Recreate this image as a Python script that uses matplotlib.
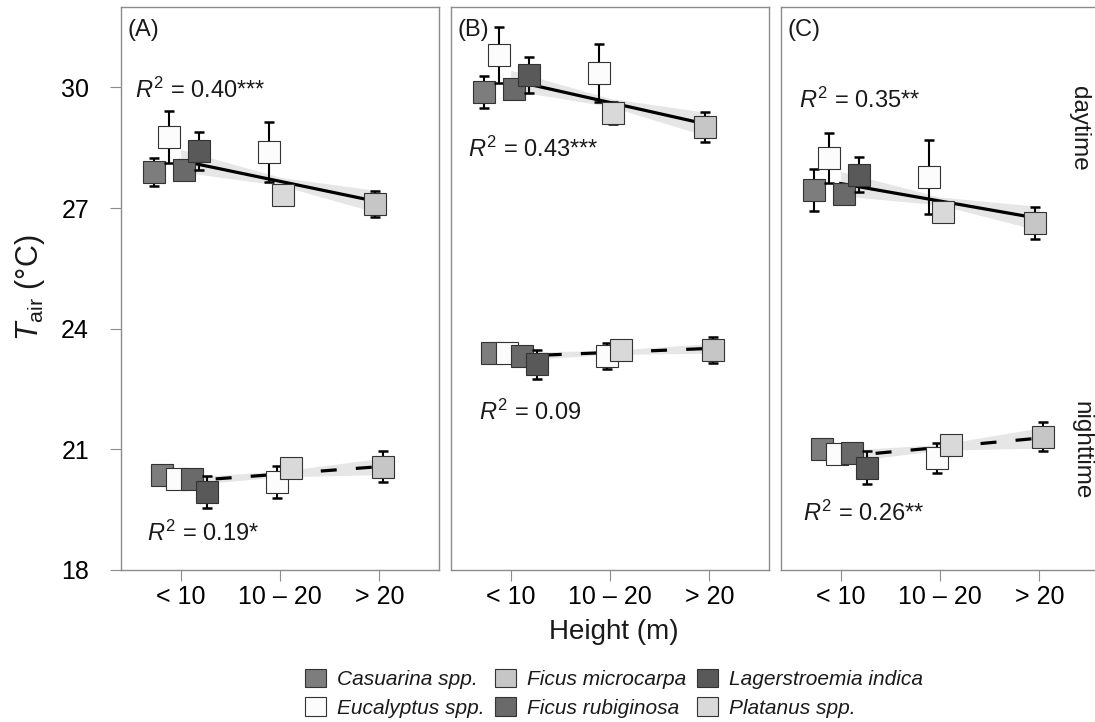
import numpy as np
import matplotlib.pyplot as plt
from matplotlib.patches import Patch

plt.rcParams['font.family'] = ['Liberation Sans', 'DejaVu Sans']
plt.rcParams['mathtext.fontset'] = 'custom'
plt.rcParams['mathtext.rm'] = 'Liberation Sans'
plt.rcParams['mathtext.it'] = 'Liberation Sans:italic'
plt.rcParams['text.color'] = '#1a1a1a'

# ---- data ----
species = ['Casuarina spp.', 'Eucalyptus spp.', 'Ficus microcarpa',
           'Ficus rubiginosa', 'Lagerstroemia indica', 'Platanus spp.']
species_colors = ['#7d7d7d', '#fcfcfc', '#c6c6c6', '#6a6a6a', '#595959', '#d9d9d9']
height_labels = ['< 10', '10 – 20', '> 20']
panel_labels = ['(A)', '(B)', '(C)']

# every point: species index and height class
point_species = [0, 1, 3, 4, 1, 5, 2]
point_height = [0, 0, 0, 0, 1, 1, 2]

day_mean_A = [27.90, 28.77, 27.95, 28.42, 28.40, 27.33, 27.10]
day_se_A = [0.35, 0.65, 0.25, 0.47, 0.75, 0.25, 0.32]
night_mean_A = [20.36, 20.26, 20.26, 19.94, 20.19, 20.54, 20.57]
night_se_A = [0.12, 0.12, 0.12, 0.40, 0.39, 0.15, 0.38]

day_mean_B = [29.89, 30.81, 29.97, 30.31, 30.36, 29.37, 29.02]
day_se_B = [0.40, 0.70, 0.20, 0.45, 0.72, 0.28, 0.38]
night_mean_B = [23.40, 23.40, 23.32, 23.12, 23.32, 23.47, 23.47]
night_se_B = [0.10, 0.10, 0.10, 0.36, 0.33, 0.10, 0.33]

day_mean_C = [27.45, 28.25, 27.35, 27.83, 27.78, 26.90, 26.63]
day_se_C = [0.53, 0.62, 0.20, 0.43, 0.92, 0.20, 0.40]
night_mean_C = [21.01, 20.89, 20.91, 20.54, 20.79, 21.11, 21.31]
night_se_C = [0.10, 0.10, 0.10, 0.41, 0.38, 0.10, 0.36]

# fitted line at height class 1 and 3, band half width at classes 1, 2, 3
fit_day = [[28.18, 27.15], [30.18, 29.07], [27.61, 26.74]]
fit_night = [[20.20, 20.57], [23.31, 23.51], [20.82, 21.28]]
band_day = [[0.28, 0.10, 0.28], [0.25, 0.10, 0.30], [0.30, 0.10, 0.30]]
band_night = [[0.10, 0.07, 0.20], [0.10, 0.05, 0.12], [0.15, 0.07, 0.25]]

r2_day = ['0.40***', '0.43***', '0.35**']
r2_night = ['0.19*', '0.09', '0.26**']

day_means = [day_mean_A, day_mean_B, day_mean_C]
day_ses = [day_se_A, day_se_B, day_se_C]
night_means = [night_mean_A, night_mean_B, night_mean_C]
night_ses = [night_se_A, night_se_B, night_se_C]

# ---- layout ----
fig = plt.figure(figsize=(10.95, 7.22), dpi=100)
lefts = [121 / 1095, 451 / 1095, 781 / 1095]
axes = [fig.add_axes([l, 1 - 570 / 722, 0.2904, 563 / 722]) for l in lefts]

r2_pos_day = [(0.545, 29.94), (0.57, 28.45), (0.58, 29.69)]
r2_pos_night = [(0.66, 18.92), (0.68, 21.93), (0.62, 19.42)]

# dodge offsets inside each height class
offsets = []
for i, h in enumerate(point_height):
    members = [j for j, hh in enumerate(point_height) if hh == h]
    rank = members.index(i)
    offsets.append((rank - (len(members) - 1) / 2) * 0.15)
offsets = np.array(offsets)
xc = np.array(point_height) + 1


def draw_period(ax, means, ses, fit, band, shift, ls):
    xs = np.array([1, 2, 3])
    yc = fit[0] + (fit[1] - fit[0]) * (xs - 1) / 2
    hw = np.array(band)
    ax.fill_between(xs, yc - hw, yc + hw, color='#e6e6e6', lw=0, zorder=1)
    ax.plot([1, 3], fit, color='black', lw=2.3, ls=ls, zorder=2)
    for k in range(len(means)):
        x = xc[k] + offsets[k] + shift
        ax.errorbar(x, means[k], yerr=ses[k], fmt='none', ecolor='black',
                    elinewidth=1.5, capsize=3.5, capthick=1.8, zorder=3 + 2 * k)
        ax.plot(x, means[k], marker='s', ms=15.5, mfc=species_colors[point_species[k]],
                mec='#333333', mew=0.8, ls='none', zorder=4 + 2 * k)


for p, ax in enumerate(axes):
    draw_period(ax, day_means[p], day_ses[p], fit_day[p], band_day[p], -0.04, '-')
    draw_period(ax, night_means[p], night_ses[p], fit_night[p], band_night[p], 0.04, (0, (5, 6)))
    ax.set_xlim(0.4, 3.6)
    ax.set_ylim(18, 32)
    ax.set_xticks([1, 2, 3])
    ax.set_xticklabels(height_labels, fontsize=18)
    ax.set_yticks([18, 21, 24, 27, 30])
    ax.tick_params(axis='x', length=8, color='#8c8c8c', pad=3)
    ax.tick_params(axis='y', length=8, color='#8c8c8c', pad=15, labelsize=18)
    if p > 0:
        ax.tick_params(axis='y', left=False, labelleft=False)
    for s in ax.spines.values():
        s.set_color('#8c8c8c')
        s.set_linewidth(1)
    ax.text(0.022, 0.96, panel_labels[p], transform=ax.transAxes, fontsize=17,
            ha='left', va='center')
    ax.text(*r2_pos_day[p], r'$R^{\mathrm{2}}$ = ' + r2_day[p], fontsize=17,
            ha='left', va='center')
    ax.text(*r2_pos_night[p], r'$R^{\mathrm{2}}$ = ' + r2_night[p], fontsize=17,
            ha='left', va='center')

axes[2].text(3.40, 28.97, 'daytime', rotation=270, fontsize=17.5, ha='center', va='center')
axes[2].text(3.42, 20.99, 'nighttime', rotation=270, fontsize=17.5, ha='center', va='center')

fig.text(0.0275, 0.601, r'$T_{\mathrm{air}}$ (°C)', rotation=90, fontsize=22,
         ha='center', va='center')
fig.text(0.561, 1 - 632 / 722, 'Height (m)', fontsize=20, ha='center', va='center')

handles = [Patch(facecolor=c, edgecolor='#333333', lw=0.8) for c in species_colors]
fig.legend(handles, species, ncol=3, loc='center', bbox_to_anchor=(0.5607, 0.040),
           frameon=False, prop={'style': 'italic', 'size': 15},
           handlelength=1.0, handleheight=1.0, handletextpad=0.5,
           columnspacing=0.55, labelspacing=0.38, borderpad=0)

fig.savefig('out.png', dpi=100)
